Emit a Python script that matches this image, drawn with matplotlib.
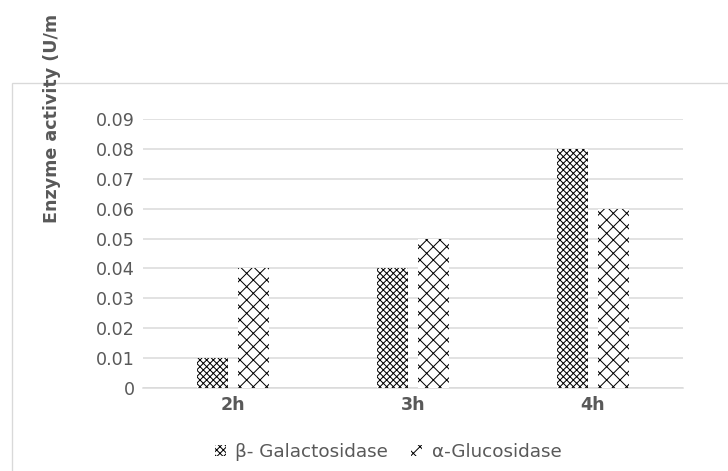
import matplotlib
matplotlib.use("Agg")
import matplotlib.pyplot as plt
import numpy as np
from matplotlib.patches import Rectangle

# Data
categories = ["2h", "3h", "4h"]
series_names = ["β- Galactosidase", "α-Glucosidase"]
galactosidase = [0.01, 0.04, 0.08]
glucosidase = [0.04, 0.05, 0.06]
yticks = [0, 0.01, 0.02, 0.03, 0.04, 0.05, 0.06, 0.07, 0.08, 0.09]
ytick_labels = ["0", "0.01", "0.02", "0.03", "0.04", "0.05", "0.06", "0.07", "0.08", "0.09"]
y_title = "Enzyme activity (U/m"

plt.rcParams["font.family"] = ["DejaVu Sans"]
plt.rcParams["hatch.linewidth"] = 0.6

W, H, DPI = 728, 471, 120
fig = plt.figure(figsize=(W / DPI, H / DPI), dpi=DPI)

# outer chart border
fig.patches.append(Rectangle((11.5 / W, -0.05), 1.2, (H - 83) / H + 0.05,
                             transform=fig.transFigure, fill=False,
                             edgecolor="#d9d9d9", linewidth=0.8))

ax = fig.add_axes([143 / W, (H - 388) / H, 540 / W, 269 / H])

grey = "#595959"
grid = "#d9d9d9"
x = np.arange(len(categories))
bw = 0.172
off = 0.114

ax.bar(x - off, galactosidase, bw, color="white", edgecolor="black",
       linewidth=0, hatch="xxxxxx", label=series_names[0], zorder=3)
ax.bar(x + off, glucosidase, bw, color="white", edgecolor="black",
       linewidth=0, hatch="xxx", label=series_names[1], zorder=3)

ax.set_xlim(-0.5, 2.5)
ax.set_ylim(0, 0.09)
ax.set_yticks(yticks)
ax.set_yticklabels(ytick_labels)
ax.set_xticks(x)
ax.set_xticklabels(categories, fontweight="bold")
ax.tick_params(axis="both", length=0, colors=grey, labelsize=10.5)
ax.tick_params(axis="y", pad=5)
ax.tick_params(axis="x", pad=5)
ax.yaxis.grid(True, color=grid, linewidth=0.9, zorder=0)
ax.set_axisbelow(True)
for s in ["top", "right", "left"]:
    ax.spines[s].set_visible(False)
ax.spines["bottom"].set_color(grid)
ax.spines["bottom"].set_linewidth(0.9)

# y-axis title running up to the top of the image
fig.text(52 / W, (H - 223) / H, y_title, rotation=90,
         ha="center", va="bottom", fontsize=10.5, fontweight="bold",
         color=grey)

fig.legend(loc="center", bbox_to_anchor=(388 / W, (H - 452) / H),
           ncol=2, frameon=False, fontsize=11, handlelength=0.6,
           handleheight=0.6, handletextpad=0.5, columnspacing=1.3,
           labelcolor=grey)

fig.savefig("out.png", dpi=DPI)
